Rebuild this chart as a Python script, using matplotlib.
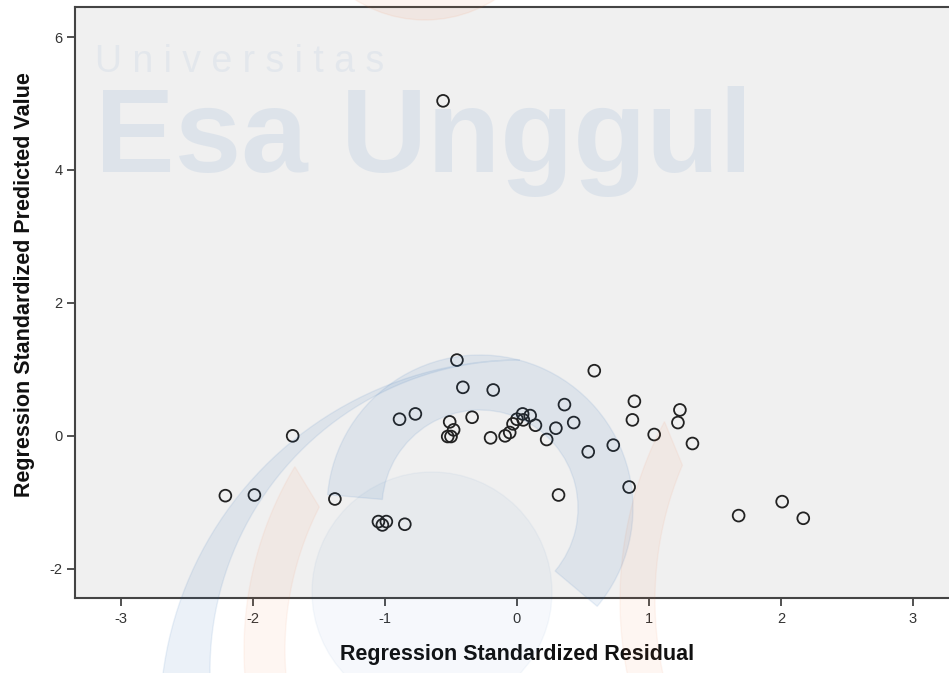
import numpy as np
import matplotlib.pyplot as plt
from matplotlib.patches import Wedge, Circle, Polygon

# residual (x) vs standardized predicted value (y)
resid = [-0.56, -1.70, -2.21, -1.99, -1.38, -0.455, -0.41, -0.18, -0.89, -0.77,
         -0.34, -0.51, -0.48, -0.525, -0.50, -0.20, -0.09, -0.055, -0.03, 0.00,
         0.043, 0.048, 0.10, 0.14, 0.225, 0.295, 0.36, 0.43, 0.54, 0.586,
         0.73, 0.315, 0.85, 0.875, 0.89, 1.04, 1.22, 1.235, 1.33, 1.68,
         2.01, 2.17, -1.05, -0.99, -1.02, -0.85]
pred = [5.04, 0.00, -0.90, -0.89, -0.95, 1.14, 0.73, 0.69, 0.25, 0.33,
        0.28, 0.21, 0.09, -0.01, -0.01, -0.03, 0.00, 0.05, 0.18, 0.25,
        0.33, 0.24, 0.305, 0.16, -0.055, 0.115, 0.47, 0.20, -0.24, 0.98,
        -0.14, -0.89, -0.77, 0.24, 0.52, 0.02, 0.20, 0.39, -0.115, -1.20,
        -0.99, -1.24, -1.29, -1.29, -1.34, -1.33]

xticks = [-3, -2, -1, 0, 1, 2, 3]
yticks = [-2, 0, 2, 4, 6]

plt.rcParams['font.family'] = ['Liberation Sans', 'DejaVu Sans']
plt.rcParams['axes.unicode_minus'] = False

fig = plt.figure(figsize=(9.49, 6.73), dpi=100)
ax = fig.add_axes([0.079, 0.1114, 0.9315, 0.878])
ax.set_facecolor('#f0f0f0')

ax.scatter(resid, pred, s=72, facecolors='none', edgecolors='#222222',
           linewidths=1.3, zorder=3)

ax.set_xlim(-3.35, 3.35)
ax.set_ylim(-2.44, 6.45)
ax.set_xticks(xticks)
ax.set_yticks(yticks)
ax.tick_params(direction='out', length=6, width=1.2, colors='#333333',
               labelsize=10.5, pad=3)
ax.tick_params(axis='x', pad=4)
for s in ax.spines.values():
    s.set_color('#444444')
    s.set_linewidth(1.5)

ax.set_xlabel('Regression Standardized Residual', fontsize=15.5,
              fontweight='bold', color='#111111')
ax.set_ylabel('Regression Standardized Predicted Value', fontsize=15.5,
              fontweight='bold', color='#111111')
ax.xaxis.set_label_coords(0.5, -0.078)
ax.yaxis.set_label_coords(-0.045, 0.53)

# faint watermark laid over the page (pixel positions -> inches)
def px(x, y):
    return (x / 100, (673 - y) / 100)

def arc(cx, cy, r, a0, a1, n=60):
    c = px(cx, cy)
    t = np.radians(np.linspace(a0, a1, n))
    return np.column_stack([c[0] + r * np.cos(t), c[1] + r * np.sin(t)])

tr = fig.dpi_scale_trans
blue = '#1e64b4'
orange = '#f07030'
crescent = np.vstack([arc(520, 720, 3.6, 90, 200), arc(520, 670, 3.1, 200, 90)])
wm = [
    Wedge(px(480, 508), 1.53, -40, 175, width=0.55, color=blue, alpha=0.085),
    Polygon(crescent, closed=True, color=blue, alpha=0.085),
    Circle(px(432, 592), 1.2, color=blue, alpha=0.04),
    Circle(px(425, -110), 1.3, color=orange, alpha=0.07),
    Polygon(np.vstack([arc(600, 650, 3.56, 149, 200), arc(600, 650, 3.15, 200, 153)]),
            closed=True, color=orange, alpha=0.06),
    Polygon(np.vstack([arc(1000, 600, 3.8, 152, 200), arc(1000, 600, 3.45, 200, 157)]),
            closed=True, color=orange, alpha=0.06),
]
for p in wm:
    p.set_transform(tr)
    p.set_zorder(1)
    fig.add_artist(p)

fig.text(0.1, 0.1114 + 0.891 * 0.878, 'U n i v e r s i t a s',
         fontsize=27, color=blue, alpha=0.06, zorder=2)
fig.text(0.1, 0.1114 + 0.721 * 0.878, 'Esa Unggul',
         fontsize=86, fontweight='bold', color=blue, alpha=0.085, zorder=2)

fig.savefig('out.png', dpi=100)
